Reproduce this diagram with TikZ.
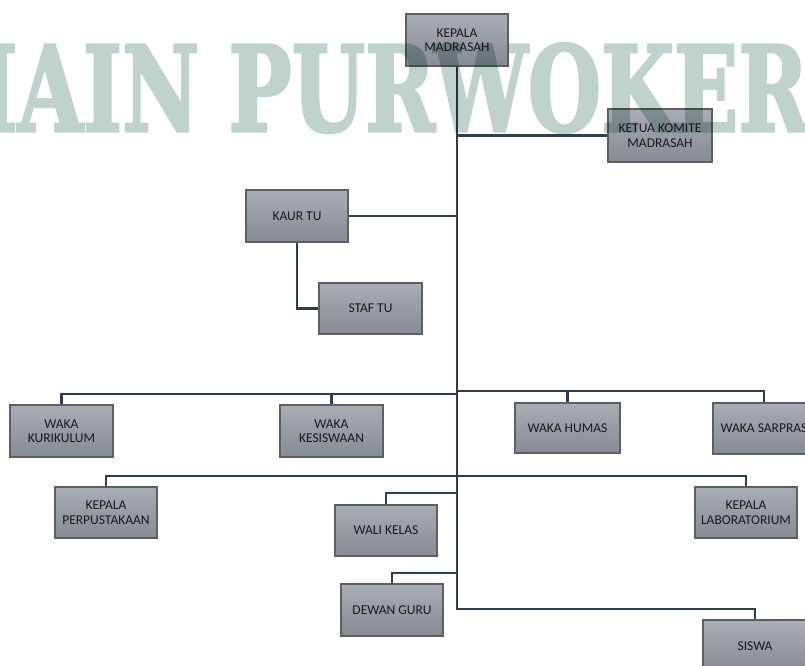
\documentclass[tikz,border=0pt]{standalone}
\usepackage{fontspec}
\usepackage{graphicx}
\newfontfamily\boxfont{Carlito}
\newfontfamily\wmfont{DejaVu Serif}[BoldFeatures={FakeBold=2.5}]
\definecolor{linec}{HTML}{2E3D4F}
\definecolor{boxborder}{HTML}{5C5F66}
\definecolor{boxtop}{HTML}{A9ADB4}
\definecolor{boxbot}{HTML}{868B94}
\definecolor{wmc}{HTML}{BFD2CB}
\tikzset{
  orgbox/.style={draw=boxborder, line width=1.6pt, top color=boxtop, bottom color=boxbot,
    text=black!90, align=center, inner sep=0pt,
    font=\boxfont\fontsize{13.5pt}{14.5pt}\selectfont,
    minimum width=102pt, minimum height=52pt},
  link/.style={draw=linec, line width=2.8pt}
}
\begin{document}
\begin{tikzpicture}[x=1pt,y=-1pt]
\useasboundingbox (0,0) rectangle (805,665);
\clip (0,0) rectangle (805,665);
\fill[white] (0,0) rectangle (805,665);
% nodes
\node[orgbox] (km) at (457,40) {KEPALA\\MADRASAH};
\node[orgbox, minimum width=104pt, minimum height=53pt] (komite) at (660,135.5) {KETUA KOMITE\\MADRASAH};
\node[orgbox] (kaur) at (297,216) {KAUR TU};
\node[orgbox, minimum width=103pt, minimum height=51pt] (staf) at (370.5,308.5) {STAF TU};
\node[orgbox, minimum width=103pt] (kurikulum) at (61.5,431) {WAKA\\KURIKULUM};
\node[orgbox, minimum width=103pt] (kesiswaan) at (331.5,431) {WAKA\\KESISWAAN};
\node[orgbox, minimum width=105pt, minimum height=50pt] (humas) at (567.5,428) {WAKA HUMAS};
\node[orgbox, minimum width=102pt, minimum height=51pt] (sarpras) at (764,428.5) {WAKA SARPRAS};
\node[orgbox, minimum height=51pt] (perpus) at (106,512.5) {KEPALA\\PERPUSTAKAAN};
\node[orgbox, minimum height=51pt] (lab) at (746,512.5) {KEPALA\\LABORATORIUM};
\node[orgbox, minimum height=51pt] (wali) at (386,530.5) {WALI KELAS};
\node[orgbox] (dewan) at (392,610) {DEWAN GURU};
\node[orgbox, minimum width=104pt] (siswa) at (755,646) {SISWA};
% junction points on the trunk
\coordinate (tEnd) at (457,609);
\coordinate (wL) at (457,394);
\coordinate (wR) at (457,391);
\coordinate (r3) at (457,476);
\coordinate (wk) at (457,493);
\coordinate (dg) at (457,573);
% connectors
\draw[link] (km.south) -- (tEnd) -| (siswa.north);
\draw[link] (km.south |- komite.west) -- (komite.west);
\draw[link] (kaur.east) -- (kaur.east -| km.south);
\draw[link] (kaur.south) |- (staf.west);
\draw[link] (kurikulum.north) |- (wL);
\draw[link] (kesiswaan.north) -- (kesiswaan.north |- wL);
\draw[link] (wR) -| (sarpras.north);
\draw[link] (humas.north) -- (humas.north |- wR);
\draw[link] (perpus.north) |- (r3) -| (lab.north);
\draw[link] (wali.north) |- (wk);
\draw[link] (dewan.north) |- (dg);
% watermark
\begin{scope}[blend mode=multiply]
\begin{scope}[transparency group]
\node[anchor=north west, inner sep=0pt, text=wmc] (wm) at (-22,43)
  {\resizebox{830pt}{88pt}{\wmfont\bfseries IAIN PURWOKER}};
\end{scope}
\end{scope}
\end{tikzpicture}
\end{document}
